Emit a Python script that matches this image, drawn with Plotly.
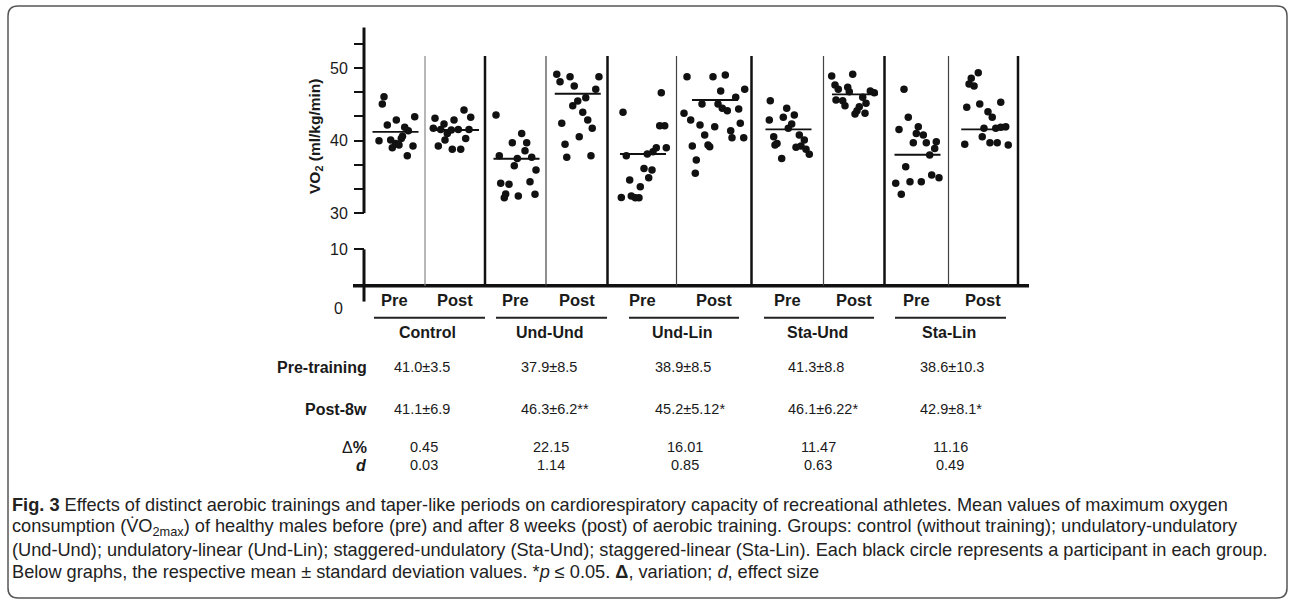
import plotly.graph_objects as go

# ---------------- data ----------------
groups = ["Control", "Und-Und", "Und-Lin", "Sta-Und", "Sta-Lin"]
phases = ["Pre", "Post"]

# individual VO2 values (ml/kg/min) and horizontal jitter (offset from column centre)
ctrl_pre_vo2 = [46.06, 45.05, 42.15, 42.84, 43.30, 41.83, 41.37, 39.99, 40.08, 39.62, 40.31, 39.39, 39.02, 39.25, 37.92, 40.6]
ctrl_pre_dx = [-10.5, -12.2, -7.2, 1.8, 20.2, 10.2, 13.8, -15.5, -3.8, 1.2, 6.8, 4.5, -2.2, 18.5, 12.8, 8.0]
ctrl_post_vo2 = [43.07, 44.22, 43.21, 42.29, 42.84, 41.69, 41.55, 41.0, 41.46, 41.55, 41.55, 40.08, 39.25, 40.31, 38.8, 38.8]
ctrl_post_dx = [-20, 9, 15.7, -11, -1, -21.7, -14.3, -7.7, -3.7, 3.3, 14, -10, -16.7, 10.7, -2.7, 5.7]

uu_pre_vo2 = [43.53, 41.0, 39.72, 39.72, 38.61, 37.92, 37.55, 37.69, 36.54, 35.95, 34.11, 33.97, 34.34, 32.64, 32.13, 32.36, 32.59]
uu_pre_dx = [-19.5, 6.2, -3.2, 11.2, 9.5, -16.2, 1.8, 16.2, -1.2, 20.5, -14.8, -6.5, 14.5, -9.8, -11.2, 2.8, 19.5]
uu_post_vo2 = [49.14, 48.13, 48.82, 47.53, 48.82, 47.07, 45.92, 45.46, 44.82, 43.9, 42.84, 41.69, 42.38, 40.54, 39.49, 37.69, 37.92]
uu_post_dx = [-20, -16.7, -6.7, -2.5, 22.2, 19, 9, 1, -4, 6, 11, 15.5, -15, 2.5, -11.7, -10, 14.2]

ul_pre_vo2 = [43.9, 46.61, 42.06, 42.06, 39.03, 39.03, 38.47, 38.15, 37.92, 36.17, 35.95, 34.89, 34.57, 33.65, 32.17, 32.36, 32.13, 32.13]
ul_pre_dx = [-19, 19.3, 17.7, 22.7, 24.3, 14.3, 11, 5.3, -15.7, 2, 10, 6.7, -12.3, -1.7, -20.7, -10.7, -6.7, -3]
ul_post_vo2 = [48.82, 48.82, 49.05, 47.07, 46.84, 45.97, 45.05, 45.05, 44.45, 44.13, 44.36, 43.76, 42.84, 42.15, 41.92,
               42.38, 40.77, 41.37, 40.4, 40.4, 39.26, 39.39, 39.16, 37.32, 35.49]
ul_post_dx = [-27, -1, 11.3, 30.7, 6.7, 21.7, -12, 4, 8.3, 13.3, 24.7, -30, -23.3, -14, 0.7,
              26.3, -9.3, 16.7, 18, 29.7, -21.7, -6, -4.3, -17.7, -18.7]

su_pre_vo2 = [45.51, 44.45, 43.21, 43.53, 42.84, 42.29, 41.69, 40.54, 40.77, 39.62, 39.39, 40.08, 39.07, 39.25, 38.8, 38.11, 37.55]
su_pre_dx = [-17.2, -0.8, -4.2, 6.8, -18.2, 4.2, 0.8, -13.8, 11.8, -10.5, -12.5, 16.8, 8.5, 13.5, 18.5, 21.8, -5.8]
su_post_vo2 = [48.91, 49.14, 47.67, 47.07, 47.35, 46.75, 46.84, 46.61, 45.6, 45.51, 44.82, 45.97, 45.14, 44.68, 44.13, 43.76, 43.67]
su_post_dx = [-22.3, -1.3, -19, -15.7, -6.3, -4.7, 16.3, 20.3, -18, -11.3, -9, 8.7, 12, 5.3, 3, 11, 1]

sl_pre_vo2 = [47.07, 43.21, 41.55, 41.92, 41.0, 40.77, 39.72, 39.72, 39.85, 38.93, 38.01, 36.41, 35.25, 34.89, 34.11, 34.34, 34.34, 32.59]
sl_pre_dx = [-12.5, -8.2, -17.5, 1.8, -0.2, 6.8, -3.2, 9.8, 19.8, 18.2, 13.2, -10.8, 15.2, 22.5, -20.8, -6.5, 4.8, -15.2]
sl_post_vo2 = [49.37, 48.59, 47.81, 47.53, 44.59, 45.05, 45.28, 43.99, 43.21, 41.69, 41.69, 41.83, 41.92, 40.54, 39.49, 39.72, 39.72, 39.39]
sl_post_dx = [-5, -12, -14.2, -9.2, -16.5, -3.5, 17.5, 4.7, 9, 0.7, 12.5, 17.5, 22.5, -1, -18.5, 6.7, 14, 25]

# mean lines as drawn in the figure
pre_mean_line = [41.2, 37.5, 38.15, 41.55, 38.06]
post_mean_line = [41.46, 46.47, 45.6, 46.38, 41.55]

# table below the graph
pre_training = ["41.0±3.5", "37.9±8.5", "38.9±8.5", "41.3±8.8", "38.6±10.3"]
post_8w = ["41.1±6.9", "46.3±6.2**", "45.2±5.12*", "46.1±6.22*", "42.9±8.1*"]
delta_pct = ["0.45", "22.15", "16.01", "11.47", "11.16"]
effect_d = ["0.03", "1.14", "0.85", "0.63", "0.49"]

# y axis ticks (broken axis: "10" sits below the break)
tick_vals = [25, 30, 40, 50]
tick_text = ["10", "30", "40", "50"]
minor_tick_vals = [33.333, 36.667, 43.333, 46.667, 53.333]

columns = [
    (ctrl_pre_dx, ctrl_pre_vo2), (ctrl_post_dx, ctrl_post_vo2),
    (uu_pre_dx, uu_pre_vo2), (uu_post_dx, uu_post_vo2),
    (ul_pre_dx, ul_pre_vo2), (ul_post_dx, ul_post_vo2),
    (su_pre_dx, su_pre_vo2), (su_post_dx, su_post_vo2),
    (sl_pre_dx, sl_pre_vo2), (sl_post_dx, sl_post_vo2),
]

# ---------------- layout constants ----------------
W, H = 1295, 605
ML, MR, MT, MB = 353, 265, 21, 294
PW, PH = W - ML - MR, H - MT - MB
XR = [-11, PW - 11]
YR = [16.5, 56.5]

group_edges = [0, 121, 243.5, 387.5, 520.5, 654]
mid_edges = [61, 182, 312.5, 459.5, 584.5]
col_edges = []
for i in range(5):
    col_edges.append((group_edges[i], mid_edges[i]))
    col_edges.append((mid_edges[i], group_edges[i + 1]))
col_centers = [(a + b) / 2 for a, b in col_edges]


def pxx(px):
    return (px - ML) / PW


def pxy(py):
    return (H - MB - py) / PH


FONT = "Liberation Sans, Arial, Helvetica, sans-serif"
TXT = "#1a1a1a"

fig = go.Figure()

# individual dots
xs, ys = [], []
for c, (dx, vals) in zip(col_centers, columns):
    xs += [c + d for d in dx]
    ys += list(vals)
fig.add_trace(go.Scatter(x=xs, y=ys, mode="markers",
                         marker=dict(size=7.5, color="#111111"),
                         showlegend=False, hoverinfo="y"))

# mean lines
means = []
for i in range(5):
    means += [pre_mean_line[i], post_mean_line[i]]
for c, m in zip(col_centers, means):
    fig.add_trace(go.Scatter(x=[c - 22, c + 24], y=[m, m], mode="lines",
                             line=dict(color="#111111", width=1.9),
                             showlegend=False, hoverinfo="skip"))

shapes = []
# axes
shapes.append(dict(type="line", xref="x", yref="y", x0=XR[0], x1=XR[1] - 1, y0=20, y1=20,
                   line=dict(color="#111", width=3.5)))
shapes.append(dict(type="line", xref="x", yref="y", x0=0, x1=0, y0=30, y1=55.6,
                   line=dict(color="#111", width=3)))
shapes.append(dict(type="line", xref="x", yref="y", x0=0, x1=0, y0=17.8, y1=25,
                   line=dict(color="#111", width=3)))
# separators
for e in group_edges[1:]:
    shapes.append(dict(type="line", xref="x", yref="y", x0=e, x1=e, y0=20, y1=51.67,
                       line=dict(color="#111", width=2.5)))
for i, e in enumerate(mid_edges):
    shapes.append(dict(type="line", xref="x", yref="y", x0=e, x1=e, y0=20, y1=51.67,
                       line=dict(color="#888" if i == 0 else "#444", width=1.2)))
# group underlines
underlines = [(374, 485), (496, 607), (629, 739), (764, 874), (895, 1006)]
for a, b in underlines:
    shapes.append(dict(type="line", xref="paper", yref="paper", x0=pxx(a), x1=pxx(b),
                       y0=pxy(317.7), y1=pxy(317.7), line=dict(color="#222", width=2)))
# caption frame (rounded)
L, R, T, B, r = 8, 1287, 6, 598, 10
path = (f"M {pxx(L + r)},{pxy(T)} L {pxx(R - r)},{pxy(T)} Q {pxx(R)},{pxy(T)} {pxx(R)},{pxy(T + r)} "
        f"L {pxx(R)},{pxy(B - r)} Q {pxx(R)},{pxy(B)} {pxx(R - r)},{pxy(B)} "
        f"L {pxx(L + r)},{pxy(B)} Q {pxx(L)},{pxy(B)} {pxx(L)},{pxy(B - r)} "
        f"L {pxx(L)},{pxy(T + r)} Q {pxx(L)},{pxy(T)} {pxx(L + r)},{pxy(T)} Z")
shapes.append(dict(type="path", xref="paper", yref="paper", path=path,
                   line=dict(color="#555", width=1.5), layer="below"))

ann = []


def add_text(text, px, py, size, bold=False, xanchor="center", family=FONT, color=TXT, angle=0):
    t = f"<b>{text}</b>" if bold else text
    ann.append(dict(text=t, x=pxx(px), y=pxy(py), xref="paper", yref="paper",
                    xanchor=xanchor, yanchor="middle", showarrow=False, textangle=angle,
                    font=dict(family=family, size=size, color=color)))


# y title and "0"
add_text("VO<sub>2</sub> (ml/kg/min)", 315, 137, 15.5, bold=True, angle=-90)
add_text("0", 338, 308, 16)

# Pre / Post labels
for i, c in enumerate(col_centers):
    add_text(phases[i % 2], ML + (c - XR[0]), 300, 16.5, bold=True)
# group names
for g, (a, b) in zip(groups, underlines):
    add_text(g, (a + b) / 2 - 2, 332, 16, bold=True)

# table
row_y = [367, 409, 447, 465]
add_text("Pre-training", 369, row_y[0], 16, bold=True, xanchor="right")
add_text("Post-8w", 369, row_y[1], 16, bold=True, xanchor="right")
add_text("Δ<b>%</b>", 369, row_y[2], 16, xanchor="right")
add_text("<b><i>d</i></b>", 369, row_y[3], 16, xanchor="right")
val_centers = [424, 551, 685, 818, 950]
for i, cx in enumerate(val_centers):
    add_text(pre_training[i], cx - 32, row_y[0], 14.5, xanchor="left")
    add_text(post_8w[i], cx - 32, row_y[1], 14.5, xanchor="left")
    add_text(delta_pct[i], cx, row_y[2], 14.5)
    add_text(effect_d[i], cx, row_y[3], 14.5)

# caption
cap_lines = [
    "<b>Fig. 3</b> Effects of distinct aerobic trainings and taper-like periods on cardiorespiratory capacity of recreational athletes. Mean values of maximum oxygen",
    "consumption (V\u0307O<sub>2max</sub>) of healthy males before (pre) and after 8 weeks (post) of aerobic training. Groups: control (without training); undulatory-undulatory",
    "(Und-Und); undulatory-linear (Und-Lin); staggered-undulatory (Sta-Und); staggered-linear (Sta-Lin). Each black circle represents a participant in each group.",
    "Below graphs, the respective mean ± standard deviation values. *<i>p</i> ≤ 0.05. <b>Δ</b>, variation; <i>d</i>, effect size",
]
for k, line in enumerate(cap_lines):
    add_text(line, 10, 505 + k * 22.4, 18.2, xanchor="left", color="#222")

fig.update_layout(
    width=W, height=H,
    margin=dict(l=ML, r=MR, t=MT, b=MB, pad=0),
    paper_bgcolor="white", plot_bgcolor="white",
    xaxis=dict(range=XR, visible=False, fixedrange=True),
    yaxis=dict(range=YR, anchor="free", position=(0 - XR[0]) / PW, showline=False,
               showgrid=False, zeroline=False, ticks="outside", ticklen=10, tickwidth=2,
               tickcolor="#111", tickmode="array", tickvals=tick_vals, ticktext=tick_text,
               minor=dict(tickmode="array", tickvals=minor_tick_vals, ticks="outside",
                          ticklen=10, tickwidth=2, tickcolor="#111", showgrid=False),
               tickfont=dict(family=FONT, size=16, color=TXT), ticklabelstandoff=3),
    shapes=shapes, annotations=ann, showlegend=False,
)

fig.write_html("out.html", config={"displayModeBar": False},
               post_script="document.body.style.margin='0px';document.body.style.overflow='hidden';")
